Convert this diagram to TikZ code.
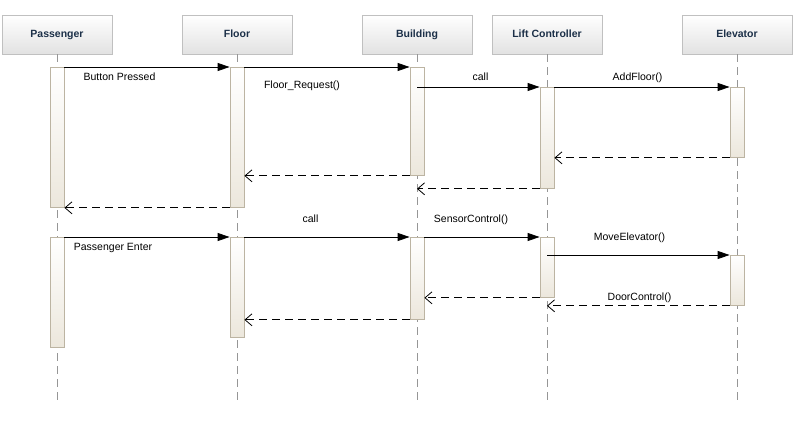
\documentclass[tikz,border=0pt]{standalone}
\usepackage{fontspec}
\setmainfont{Liberation Sans}
\usetikzlibrary{arrows.meta}

\definecolor{headfill}{RGB}{226,226,226}
\definecolor{headline}{RGB}{192,192,192}
\definecolor{headtext}{RGB}{28,48,72}
\definecolor{barfill}{RGB}{236,231,220}
\definecolor{barline}{RGB}{188,180,162}
\definecolor{lifegray}{RGB}{150,150,150}

\tikzset{
  header/.style={shape=rectangle, draw=headline, line width=0.8pt, top color=white, bottom color=headfill, minimum width=110pt, minimum height=39pt, inner sep=0pt, text=headtext, font=\fontsize{10.5}{12}\selectfont\bfseries, text height=7.5pt, text depth=2pt},
  bar/.style={shape=rectangle, draw=barline, line width=0.8pt, top color=white, bottom color=barfill, minimum width=14pt, inner sep=0pt, anchor=north},
  msg/.style={anchor=base, inner sep=0pt, font=\fontsize{10.5}{12}\selectfont},
  life/.style={draw=lifegray, line width=0.8pt, dash pattern=on 8pt off 5pt},
  sync/.style={line width=0.8pt, -{Triangle[length=12pt,width=8pt]}},
  ret/.style={line width=0.8pt, dash pattern=on 8pt off 5pt, -{Straight Barb[length=7pt,width=12pt]}},
}

\begin{document}
\begin{tikzpicture}[x=1pt,y=-1pt]
\useasboundingbox (0,0) rectangle (811,440);

% objects
\node[header] (pass) at (57,34.5) {Passenger};
\node[header] (floor) at (237,34.5) {Floor};
\node[header] (bldg) at (417,34.5) {Building};
\node[header] (lift) at (547,34.5) {Lift Controller};
\node[header] (elev) at (737,34.5) {Elevator};

% lifelines
\coordinate (bottom) at (0,402);
\foreach \n in {pass,floor,bldg,lift,elev}
  \draw[life] (\n.south) -- (\n.south |- bottom);

% activations
\node[bar, minimum height=140pt] (pa1) at (57,67) {};
\node[bar, minimum height=140pt] (fl1) at (237,67) {};
\node[bar, minimum height=108pt] (bu1) at (417,67) {};
\node[bar, minimum height=101pt] (lc1) at (547,87) {};
\node[bar, minimum height=70pt] (el1) at (737,87) {};
\node[bar, minimum height=110pt] (pa2) at (57,237) {};
\node[bar, minimum height=100pt] (fl2) at (237,237) {};
\node[bar, minimum height=82pt] (bu2) at (417,237) {};
\node[bar, minimum height=60pt] (lc2) at (547,237) {};
\node[bar, minimum height=50pt] (el2) at (737,255) {};

% first request
\draw[sync] (pa1.north east) -- (fl1.north west);
\draw[sync] (fl1.north east) -- (bu1.north west);
\draw[sync] (bu1.north |- lc1.north) -- (lc1.north west);
\draw[sync] (lc1.north east) -- (el1.north west);
\draw[ret] (el1.south west) -- (lc1.east |- el1.south);
\draw[ret] (lc1.south west) -- (bu1.south |- lc1.south);
\draw[ret] (bu1.south west) -- (fl1.east |- bu1.south);
\draw[ret] (fl1.south west) -- (pa1.south east);

% second request
\draw[sync] (pa2.north east) -- (fl2.north west);
\draw[sync] (fl2.north east) -- (bu2.north west);
\draw[sync] (bu2.north east) -- (lc2.north west);
\draw[sync] (lc2.north |- el2.north) -- (el2.north west);
\draw[ret] (el2.south west) -- (lc2.north |- el2.south);
\draw[ret] (lc2.south west) -- (bu2.east |- lc2.south);
\draw[ret] (bu2.south west) -- (fl2.east |- bu2.south);

% labels
\node[msg] (m1) at (119.5,80) {Button Pressed};
\node[msg] (m2) at (302,88) {Floor\_Request()};
\node[msg] (m3) at (480.5,80) {call};
\node[msg] (m4) at (637.5,80) {AddFloor()};
\node[msg] (m5) at (113,250) {Passenger Enter};
\node[msg] (m6) at (310.5,222) {call};
\node[msg] (m7) at (471,222) {SensorControl()};
\node[msg] (m8) at (629.5,240) {MoveElevator()};
\node[msg] (m9) at (639.5,300) {DoorControl()};
\end{tikzpicture}
\end{document}
